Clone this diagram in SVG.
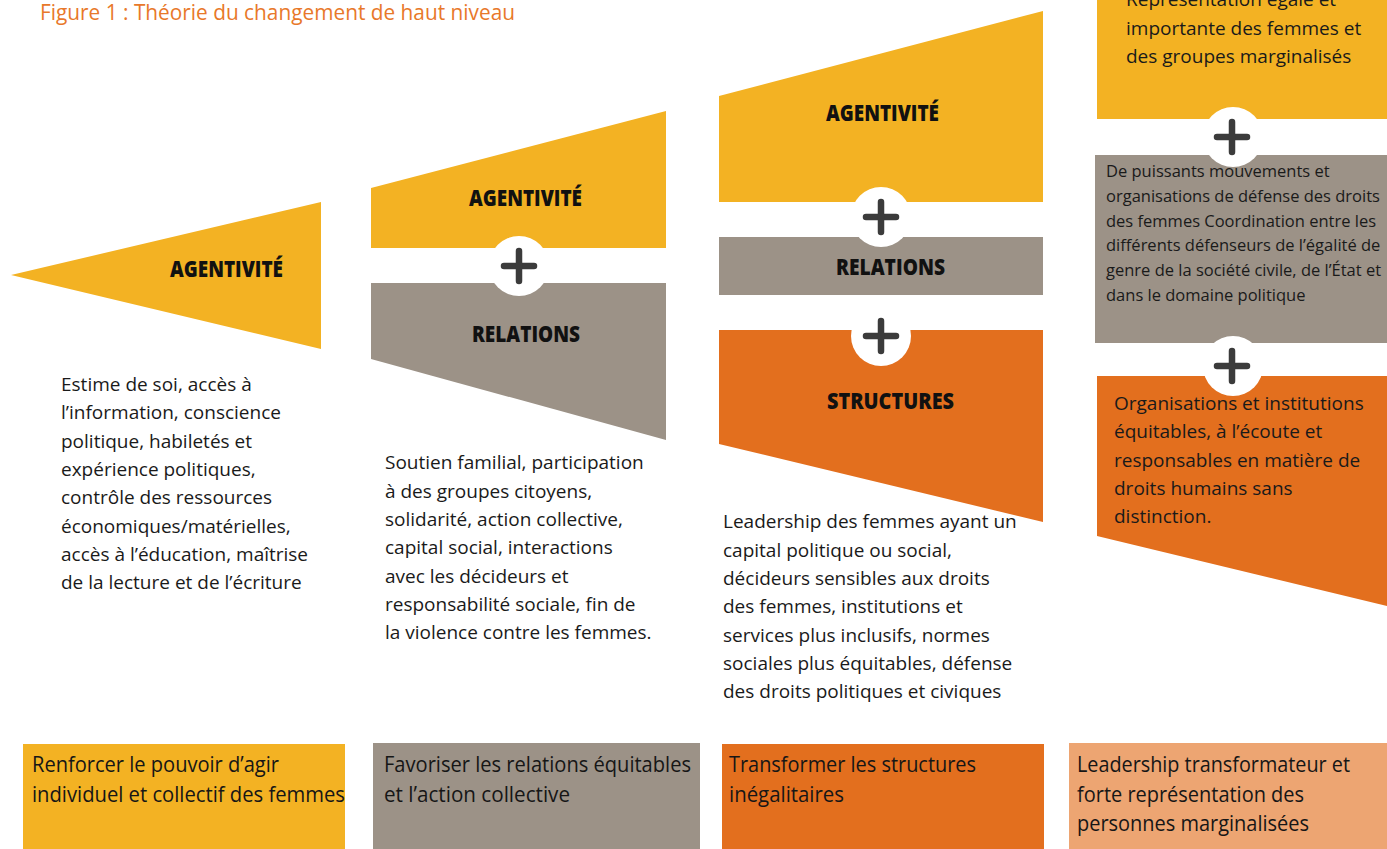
<svg xmlns="http://www.w3.org/2000/svg" width="1387" height="849" viewBox="0 0 1387 849">
<style>
.yel{fill:#F3B223}
.gry{fill:#9C9287}
.org{fill:#E36F1E}
.lor{fill:#EDA572}
.hd{font-family:"Open Sans","Noto Sans",sans-serif;font-weight:800;font-size:22px;fill:#111}
.bd{font-family:"Open Sans","Noto Sans",sans-serif;font-size:19px;fill:#1a1a1a}
.sm{font-family:"Open Sans","Noto Sans",sans-serif;font-size:16.5px;fill:#1a1a1a}
.cn{font-family:"Open Sans","Noto Sans",sans-serif;font-size:21.5px;fill:#161616}
.ttl{font-family:"Open Sans","Noto Sans",sans-serif;font-size:21px;fill:#E8782A}
.pc{fill:#fff}
.pl{stroke:#3b3b3b;stroke-width:6.5;stroke-linecap:round;fill:none}
</style>
<defs>
<g id="plus"><line class="pl" x1="-15" y1="0" x2="15" y2="0"/><line class="pl" x1="0" y1="-15" x2="0" y2="15"/></g>
</defs>
<rect width="1387" height="849" fill="#fff"/>
<text class="ttl" x="40" y="20" textLength="475" lengthAdjust="spacingAndGlyphs">Figure 1 : Théorie du changement de haut niveau</text>

<!-- Column 1 -->
<g id="col1-agentivite">
<polygon class="yel" points="11,275 321,202 321,349"/>
<text class="hd" x="170" y="277" textLength="113" lengthAdjust="spacingAndGlyphs">AGENTIVITÉ</text>
</g>
<g id="col1-texte">
<text class="bd" x="61" y="391">Estime de soi, accès à</text>
<text class="bd" x="61" y="419.3">l’information, conscience</text>
<text class="bd" x="61" y="447.6">politique, habiletés et</text>
<text class="bd" x="61" y="475.9">expérience politiques,</text>
<text class="bd" x="61" y="504.2">contrôle des ressources</text>
<text class="bd" x="61" y="532.5">économiques/matérielles,</text>
<text class="bd" x="61" y="560.8">accès à l’éducation, maîtrise</text>
<text class="bd" x="61" y="589.1">de la lecture et de l’écriture</text>
</g>

<!-- Column 2 -->
<g id="col2-agentivite">
<polygon class="yel" points="371,188 666,111 666,248 371,248"/>
<text class="hd" x="469" y="206" textLength="113" lengthAdjust="spacingAndGlyphs">AGENTIVITÉ</text>
</g>
<g id="col2-relations">
<polygon class="gry" points="371,283 666,283 666,440 371,359"/>
<text class="hd" x="472" y="342" textLength="108" lengthAdjust="spacingAndGlyphs">RELATIONS</text>
</g>
<g id="col2-plus">
<circle class="pc" cx="519" cy="266" r="30"/>
<use href="#plus" x="519" y="266"/>
</g>
<g id="col2-texte">
<text class="bd" x="385" y="469.3">Soutien familial, participation</text>
<text class="bd" x="385" y="497.6">à des groupes citoyens,</text>
<text class="bd" x="385" y="525.9">solidarité, action collective,</text>
<text class="bd" x="385" y="554.2">capital social, interactions</text>
<text class="bd" x="385" y="582.5">avec les décideurs et</text>
<text class="bd" x="385" y="610.8">responsabilité sociale, fin de</text>
<text class="bd" x="385" y="639.1">la violence contre les femmes.</text>
</g>

<!-- Column 3 -->
<g id="col3-agentivite">
<polygon class="yel" points="719,96 1043,11 1043,202 719,202"/>
<text class="hd" x="826" y="121" textLength="113" lengthAdjust="spacingAndGlyphs">AGENTIVITÉ</text>
</g>
<g id="col3-relations">
<rect class="gry" x="719" y="237" width="324" height="58"/>
<text class="hd" x="836" y="275" textLength="109" lengthAdjust="spacingAndGlyphs">RELATIONS</text>
</g>
<g id="col3-structures">
<polygon class="org" points="719,330 1043,330 1043,522 719,444"/>
<text class="hd" x="827" y="409" textLength="127" lengthAdjust="spacingAndGlyphs">STRUCTURES</text>
</g>
<g id="col3-plus1">
<circle class="pc" cx="881" cy="217" r="30"/>
<use href="#plus" x="881" y="217"/>
</g>
<g id="col3-plus2">
<circle class="pc" cx="881" cy="336" r="30"/>
<use href="#plus" x="881" y="336"/>
</g>
<g id="col3-texte">
<text class="bd" x="723" y="528.3">Leadership des femmes ayant un</text>
<text class="bd" x="723" y="556.6">capital politique ou social,</text>
<text class="bd" x="723" y="584.9">décideurs sensibles aux droits</text>
<text class="bd" x="723" y="613.2">des femmes, institutions et</text>
<text class="bd" x="723" y="641.5">services plus inclusifs, normes</text>
<text class="bd" x="723" y="669.8">sociales plus équitables, défense</text>
<text class="bd" x="723" y="698.1">des droits politiques et civiques</text>
</g>

<!-- Column 4 -->
<g id="col4-representation">
<rect class="yel" x="1097" y="0" width="290" height="119"/>
<text class="bd" x="1126" y="6.4">Représentation égale et</text>
<text class="bd" x="1126" y="34.7">importante des femmes et</text>
<text class="bd" x="1126" y="63">des groupes marginalisés</text>
</g>
<g id="col4-mouvements">
<rect class="gry" x="1095" y="155" width="292" height="188"/>
<text class="sm" x="1106" y="177">De puissants mouvements et</text>
<text class="sm" x="1106" y="201.8">organisations de défense des droits</text>
<text class="sm" x="1106" y="226.6">des femmes Coordination entre les</text>
<text class="sm" x="1106" y="251.4">différents défenseurs de l’égalité de</text>
<text class="sm" x="1106" y="276.2">genre de la société civile, de l’État et</text>
<text class="sm" x="1106" y="301">dans le domaine politique</text>
</g>
<g id="col4-organisations">
<polygon class="org" points="1097,376 1387,376 1387,606 1097,536"/>
<text class="bd" x="1114" y="410">Organisations et institutions</text>
<text class="bd" x="1114" y="438.3">équitables, à l’écoute et</text>
<text class="bd" x="1114" y="466.6">responsables en matière de</text>
<text class="bd" x="1114" y="494.9">droits humains sans</text>
<text class="bd" x="1114" y="523.2">distinction.</text>
</g>
<g id="col4-plus1">
<circle class="pc" cx="1233" cy="137" r="30"/>
<use href="#plus" x="1232" y="137"/>
</g>
<g id="col4-plus2">
<circle class="pc" cx="1233" cy="366" r="30"/>
<use href="#plus" x="1232" y="366"/>
</g>

<!-- Bottom boxes -->
<g id="box1">
<rect class="yel" x="23" y="744" width="322" height="105"/>
<text class="cn" x="32" y="772" textLength="247" lengthAdjust="spacingAndGlyphs">Renforcer le pouvoir d’agir</text>
<text class="cn" x="32" y="802" textLength="313" lengthAdjust="spacingAndGlyphs">individuel et collectif des femmes</text>
</g>
<g id="box2">
<rect class="gry" x="373" y="743" width="327" height="106"/>
<text class="cn" x="384" y="772" textLength="307" lengthAdjust="spacingAndGlyphs">Favoriser les relations équitables</text>
<text class="cn" x="384" y="802" textLength="186" lengthAdjust="spacingAndGlyphs">et l’action collective</text>
</g>
<g id="box3">
<rect class="org" x="722" y="744" width="322" height="105"/>
<text class="cn" x="729" y="772" textLength="247" lengthAdjust="spacingAndGlyphs">Transformer les structures</text>
<text class="cn" x="729" y="802" textLength="115" lengthAdjust="spacingAndGlyphs">inégalitaires</text>
</g>
<g id="box4">
<rect class="lor" x="1069" y="743" width="318" height="106"/>
<text class="cn" x="1077" y="772" textLength="273" lengthAdjust="spacingAndGlyphs">Leadership transformateur et</text>
<text class="cn" x="1077" y="802" textLength="227" lengthAdjust="spacingAndGlyphs">forte représentation des</text>
<text class="cn" x="1077" y="831" textLength="232" lengthAdjust="spacingAndGlyphs">personnes marginalisées</text>
</g>
</svg>
